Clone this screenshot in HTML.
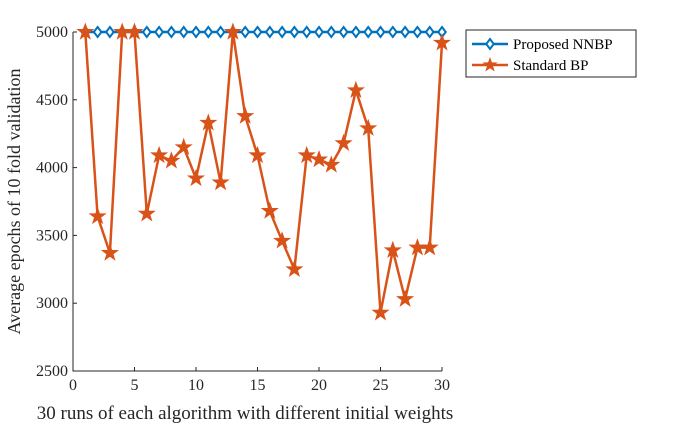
<!DOCTYPE html>
<html><head><meta charset="utf-8"><style>
body{margin:0;background:#fff}
svg{display:block;font-family:"Liberation Serif",serif}
</style></head><body>
<svg id="c" width="676" height="427"></svg>
<script>
const xs=[1,2,3,4,5,6,7,8,9,10,11,12,13,14,15,16,17,18,19,20,21,22,23,24,25,26,27,28,29,30];
const nnbp=[5000,5000,5000,5000,5000,5000,5000,5000,5000,5000,5000,5000,5000,5000,5000,5000,5000,5000,5000,5000,5000,5000,5000,5000,5000,5000,5000,5000,5000,5000];
const bp=[5000,3640,3370,5000,5000,3660,4090,4050,4150,3920,4330,3890,5000,4380,4090,3680,3460,3250,4090,4060,4020,4180,4570,4290,2930,3390,3030,3410,3410,4920];
const xTicks=[0,5,10,15,20,25,30];
const yTicks=[2500,3000,3500,4000,4500,5000];
const L=73,R=442,T=32,B=371;
const X=v=>L+(v-0)/30*(R-L);
const Y=v=>B-(v-2500)/2500*(B-T);
const svg=document.getElementById('c');
const NS='http://www.w3.org/2000/svg';
function mk(t,a,p){const e=document.createElementNS(NS,t);for(const k in a)e.setAttribute(k,a[k]);(p||svg).appendChild(e);return e;}
let ax=mk('path',{d:`M${L},${T}V${B}H${R}`,fill:'none',stroke:'#262626','stroke-width':1});


xTicks.forEach(v=>{
 let t=mk('line',{x1:X(v),x2:X(v),y1:B,y2:B-4,stroke:'#262626'});
 
 
 let l=mk('text',{x:X(v),y:B+19,'text-anchor':'middle','font-size':16,fill:'#262626'});l.textContent=v;
 
 
});
yTicks.forEach(v=>{
 let t=mk('line',{x1:L,x2:L+4,y1:Y(v),y2:Y(v),stroke:'#262626'});
 
 
 let l=mk('text',{x:L-5,y:Y(v)+5,'text-anchor':'end','font-size':16,fill:'#262626'});l.textContent=v;
 
 
});
let xt=mk('text',{x:245,y:419,'text-anchor':'middle','font-size':19,fill:'#262626'});xt.textContent='30 runs of each algorithm with different initial weights';


let yt=mk('text',{x:0,y:0,'text-anchor':'middle','font-size':18,fill:'#262626',transform:`translate(20,${(T+B)/2}) rotate(-90)`});yt.textContent='Average epochs of 10 fold validation';


function star(cx,cy,r){let p=[];for(let i=0;i<10;i++){const a=-Math.PI/2+i*Math.PI/5;const rr=i%2?r*0.4:r;p.push((cx+rr*Math.cos(a)).toFixed(1)+','+(cy+rr*Math.sin(a)).toFixed(1));}return p.join(' ');}
function diamond(cx,cy,r){return `${cx},${cy-r} ${cx+r*0.75},${cy} ${cx},${cy+r} ${cx-r*0.75},${cy}`;}
let l1=mk('polyline',{points:xs.map((x,i)=>X(x)+','+Y(nnbp[i])).join(' '),fill:'none',stroke:'#0072BD','stroke-width':2.5});


xs.forEach((x,i)=>{let m=mk('polygon',{points:diamond(X(x),Y(nnbp[i]),5),fill:'#fff',stroke:'#0072BD','stroke-width':2});
 
 });
let l2=mk('polyline',{points:xs.map((x,i)=>X(x)+','+Y(bp[i])).join(' '),fill:'none',stroke:'#D95319','stroke-width':2.5});


xs.forEach((x,i)=>{let m=mk('polygon',{points:star(X(x),Y(bp[i]),8),fill:'#D95319',stroke:'#D95319','stroke-width':1});
 
 });
let lg=mk('g',{});


mk('rect',{x:466,y:30,width:170,height:47,fill:'#fff',stroke:'#262626','stroke-width':1},lg);
mk('line',{x1:472,x2:508,y1:44,y2:44,stroke:'#0072BD','stroke-width':2.5},lg);
mk('polygon',{points:diamond(490,44,5),fill:'#fff',stroke:'#0072BD','stroke-width':2},lg);
let t1=mk('text',{x:513,y:49,'font-size':15,fill:'#000'},lg);t1.textContent='Proposed NNBP';


mk('line',{x1:472,x2:508,y1:65,y2:65,stroke:'#D95319','stroke-width':2.5},lg);
mk('polygon',{points:star(490,65,8),fill:'#D95319'},lg);
let t2=mk('text',{x:513,y:70,'font-size':15,fill:'#000'},lg);t2.textContent='Standard BP';


</script>
</body></html>
